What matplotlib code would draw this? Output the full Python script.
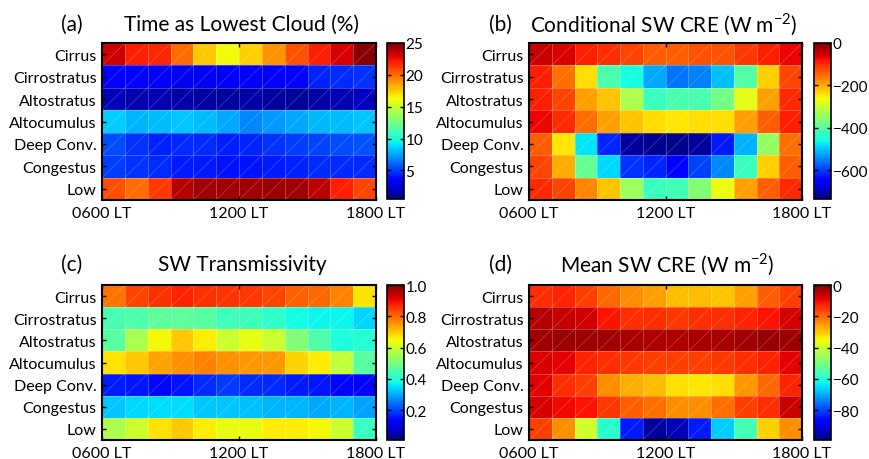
import numpy as np
import matplotlib.pyplot as plt

plt.rcParams['font.family'] = ['Lato', 'DejaVu Sans']

cloud_types = ['Cirrus', 'Cirrostratus', 'Altostratus', 'Altocumulus',
               'Deep Conv.', 'Congestus', 'Low']
hour_edges = np.arange(6, 19)
hour_ticks = [6, 12, 18]
hour_labels = ['0600 LT', '1200 LT', '1800 LT']

# (a) time as lowest cloud, %
time_lowest = [
    [23.3, 22.0, 21.8, 20.0, 17.6, 16.2, 17.4, 18.9, 20.6, 22.0, 23.0, 24.8],
    [3.4, 3.2, 3.0, 2.9, 3.0, 3.1, 3.1, 3.2, 3.3, 4.4, 4.6, 4.8],
    [1.8, 1.5, 1.6, 1.4, 1.3, 1.2, 1.3, 1.2, 1.1, 1.3, 1.6, 2.0],
    [8.5, 7.9, 8.1, 8.3, 8.1, 7.6, 6.9, 7.2, 7.6, 8.0, 8.1, 8.3],
    [5.4, 4.8, 4.4, 4.6, 4.6, 4.3, 4.5, 4.8, 5.0, 5.2, 5.4, 5.5],
    [5.0, 4.8, 4.6, 4.2, 4.2, 4.0, 4.0, 4.2, 4.4, 4.6, 4.6, 4.6],
    [20.7, 20.0, 21.3, 23.8, 24.3, 24.3, 24.3, 24.4, 24.3, 23.7, 22.0, 21.0],
]

# (b) conditional SW CRE, W m-2
cond_cre = [
    [-44, -59, -92, -103, -118, -140, -140, -130, -130, -110, -92, -70],
    [-92, -155, -239, -412, -460, -522, -559, -552, -506, -405, -228, -118],
    [-92, -118, -191, -221, -324, -427, -412, -412, -375, -276, -191, -100],
    [-70, -100, -150, -191, -221, -239, -247, -239, -239, -191, -140, -92],
    [-140, -247, -478, -618, -718, -725, -725, -718, -625, -515, -346, -155],
    [-118, -200, -390, -486, -607, -618, -648, -596, -544, -427, -228, -140],
    [-100, -118, -170, -221, -338, -427, -420, -360, -268, -191, -140, -100],
]

# (c) SW transmissivity
transmissivity = [
    [0.79, 0.84, 0.86, 0.875, 0.86, 0.855, 0.85, 0.84, 0.81, 0.80, 0.775, 0.675],
    [0.44, 0.45, 0.47, 0.47, 0.46, 0.43, 0.43, 0.41, 0.38, 0.37, 0.37, 0.34],
    [0.46, 0.56, 0.65, 0.70, 0.66, 0.60, 0.635, 0.60, 0.51, 0.45, 0.39, 0.40],
    [0.675, 0.70, 0.74, 0.76, 0.775, 0.76, 0.75, 0.75, 0.69, 0.66, 0.59, 0.46],
    [0.16, 0.155, 0.14, 0.15, 0.175, 0.19, 0.175, 0.175, 0.16, 0.155, 0.14, 0.12],
    [0.325, 0.345, 0.35, 0.35, 0.325, 0.325, 0.32, 0.31, 0.31, 0.30, 0.31, 0.29],
    [0.56, 0.60, 0.675, 0.70, 0.66, 0.635, 0.635, 0.66, 0.66, 0.65, 0.60, 0.42],
]

# (d) mean SW CRE, W m-2
mean_cre = [
    [-13.9, -12.4, -15.8, -19.8, -23.8, -25.7, -28.7, -28.7, -29.7, -25.7, -18.8, -15.8],
    [-5.0, -6.0, -7.0, -11.0, -13.9, -13.9, -14.8, -13.9, -13.9, -12.4, -11.0, -7.4],
    [-3.0, -2.5, -2.5, -3.0, -3.5, -4.0, -4.0, -3.5, -3.5, -3.0, -2.0, -2.5],
    [-7.4, -8.7, -12.4, -13.9, -14.8, -15.8, -15.8, -15.8, -14.8, -13.9, -12.4, -8.7],
    [-8.7, -13.9, -15.8, -23.8, -27.2, -28.7, -32.2, -33.0, -32.2, -24.8, -19.8, -12.4],
    [-7.4, -9.9, -11.0, -14.8, -18.8, -20.8, -23.8, -23.8, -20.8, -15.8, -13.9, -6.2],
    [-15.8, -23.8, -39.6, -59.4, -84.0, -96.5, -94.0, -84.0, -66.8, -56.4, -30.7, -23.8],
]

W, H = 869, 460


def px_rect(left, top, right, bottom):
    return [left / W, 1 - bottom / H, (right - left) / W, (bottom - top) / H]


def draw_panel(fig, rect, cbar_rect, data, vmin, vmax, cticks, letter, title, title_xy, letter_x):
    ax = fig.add_axes(px_rect(*rect))
    cax = fig.add_axes(px_rect(*cbar_rect))
    rows = np.arange(len(cloud_types) + 1)
    mesh = ax.pcolormesh(hour_edges, rows, np.asarray(data), cmap='jet',
                         vmin=vmin, vmax=vmax, edgecolor=(1, 1, 1, 0.25), linewidth=0.5)
    # faint diagonals like the exported surface triangles
    for k in range(hour_edges[0] - len(cloud_types), hour_edges[-1] + 1):
        ax.plot([k, k + 20], [len(cloud_types), len(cloud_types) - 20],
                color='white', alpha=0.25, lw=0.5)
    ax.set_xlim(hour_edges[0], hour_edges[-1])
    ax.set_ylim(len(cloud_types), 0)
    ax.set_yticks(np.arange(len(cloud_types)) + 0.5)
    ax.set_yticklabels(cloud_types)
    ax.set_xticks(hour_ticks)
    ax.set_xticklabels(hour_labels)
    ax.tick_params(direction='in', length=3, width=1, top=True, right=True,
                   labelsize=11.5, pad=4)
    for s in ax.spines.values():
        s.set_linewidth(1.5)

    cb = fig.colorbar(mesh, cax=cax, ticks=cticks)
    cb.ax.tick_params(direction='in', length=3, width=1, left=True, right=True,
                      labelsize=11, pad=1)
    cb.outline.set_linewidth(1.2)

    fig.text(letter_x / W, 1 - title_xy[1] / H, letter, fontsize=15, ha='center', va='center')
    fig.text(title_xy[0] / W, 1 - title_xy[1] / H, title, fontsize=15, ha='center', va='center')
    return cb


fig = plt.figure(figsize=(W / 100, H / 100), dpi=100)

draw_panel(fig, (102, 44, 376, 201), (387, 44, 404, 200), time_lowest, 0.5, 25,
           [5, 10, 15, 20, 25], '(a)', 'Time as Lowest Cloud (%)', (242, 25), 72)
draw_panel(fig, (529, 44, 802, 201), (814, 44, 831, 200), cond_cre, -736, 0,
           [-600, -400, -200, 0], '(b)', r'Conditional SW CRE (W m$^{\mathregular{-2}}$)',
           (664, 25), 500)
cb_c = draw_panel(fig, (102, 286, 376, 441), (387, 286, 404, 441), transmissivity, 0.01, 1.0,
                  [0.2, 0.4, 0.6, 0.8, 1.0], '(c)', 'SW Transmissivity', (242, 265), 72)
draw_panel(fig, (529, 286, 802, 441), (814, 286, 831, 441), mean_cre, -99, 0,
           [-80, -60, -40, -20, 0], '(d)', r'Mean SW CRE (W m$^{\mathregular{-2}}$)',
           (667, 265), 500)

cb_c.ax.yaxis.set_major_formatter(plt.FormatStrFormatter('%.1f'))

fig.savefig('out.png', dpi=100)
